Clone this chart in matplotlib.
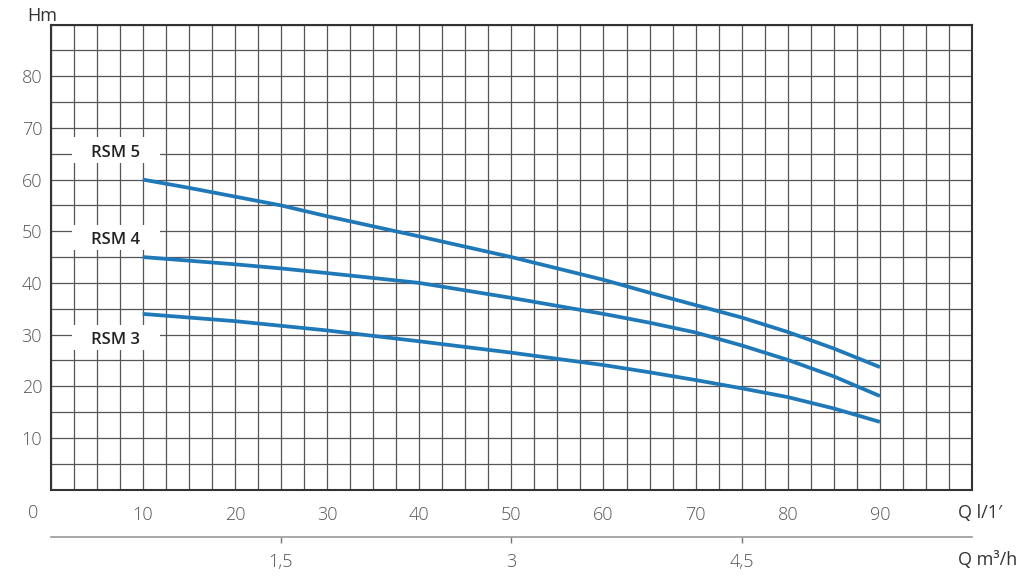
import matplotlib
matplotlib.use('Agg')
import matplotlib.pyplot as plt
from matplotlib.patches import Rectangle
import numpy as np

# ---- data ----
flow_lpm = [10, 15, 20, 25, 30, 40, 50, 60, 65, 70, 75, 80, 85, 90]
head_rsm5 = [60.0, 58.4, 56.7, 55.0, 52.9, 49.0, 45.0, 40.6, 38.1, 35.7, 33.3, 30.5, 27.3, 23.7]
head_rsm4 = [45.0, 44.3, 43.6, 42.8, 41.9, 40.0, 37.1, 34.0, 32.3, 30.4, 27.9, 25.1, 21.9, 18.1]
head_rsm3 = [34.0, 33.3, 32.6, 31.7, 30.8, 28.7, 26.5, 24.1, 22.7, 21.2, 19.6, 17.9, 15.7, 13.1]
series_names = ['RSM 5', 'RSM 4', 'RSM 3']
x_tick_values = [10, 20, 30, 40, 50, 60, 70, 80, 90]
x_tick_labels = ['10', '20', '30', '40', '50', '60', '70', '80', '90']
y_tick_values = [10, 20, 30, 40, 50, 60, 70, 80]
y_tick_labels = ['10', '20', '30', '40', '50', '60', '70', '80']
m3h_tick_values = [1.5, 3.0, 4.5]
m3h_tick_labels = ['1,5', '3', '4,5']

plt.rcParams['font.family'] = ['Open Sans', 'DejaVu Sans']

W, H = 1024, 586
fig = plt.figure(figsize=(W / 100, H / 100), dpi=100)
ax = fig.add_axes([50.5 / W, 1 - 489.6 / H, (972.1 - 50.5) / W, (489.6 - 24.5) / H])
ax.set_xlim(0, 100)
ax.set_ylim(0, 90)

grid_color = '#555555'
tick_color = '#555555'
ax.set_xticks(x_tick_values)
ax.set_xticklabels(x_tick_labels, fontweight='light')
ax.set_xticks(np.arange(0, 100.01, 2.5), minor=True)
ax.set_yticks(y_tick_values)
ax.set_yticklabels(y_tick_labels, fontweight='light')
ax.set_yticks(np.arange(0, 90.01, 5), minor=True)
ax.grid(which='both', color=grid_color, linewidth=0.9)
ax.set_axisbelow(True)
ax.tick_params(which='both', length=0)
ax.tick_params(axis='x', pad=11.5, labelsize=13, labelcolor=tick_color)
ax.tick_params(axis='y', pad=6, labelsize=13, labelcolor=tick_color)
for s in ax.spines.values():
    s.set_color('#333333')
    s.set_linewidth(1.5)

ax.annotate('0', xy=(0, 0), xycoords='data', xytext=(-17.5, -23.4),
            textcoords='offset pixels', ha='center', va='center',
            fontsize=13, fontweight='light', color=tick_color, annotation_clip=False)

# curves
curve_color = '#1f78b7'
label_pos_y = [65.1, 48.3, 29.0]
box_y = [(63.2, 68.2), (46.3, 51.2), (27.0, 31.9)]
for name, head, ly, (b0, b1) in zip(series_names, [head_rsm5, head_rsm4, head_rsm3], label_pos_y, box_y):
    ax.plot(flow_lpm, head, color=curve_color, linewidth=2.7, zorder=3,
            solid_capstyle='butt', solid_joinstyle='round')
    ax.add_patch(Rectangle((2.33, b0), 11.88 - 2.33, b1 - b0, facecolor='white',
                           edgecolor='none', zorder=2))
    ax.text(7.0, ly, name, ha='center', va='center', fontsize=12,
            fontweight='semibold', color='#222222', zorder=4)

# secondary flow axis in m3/h
secax = ax.secondary_xaxis(-0.102, functions=(lambda q: q * 0.06, lambda m: m / 0.06))
secax.set_xticks(m3h_tick_values)
secax.set_xticklabels(m3h_tick_labels, fontweight='light')
secax.tick_params(direction='out', length=4, width=1, color='#777777', pad=7.5,
                  labelsize=13, labelcolor=tick_color)
secax.spines['bottom'].set_color('#999999')
secax.spines['bottom'].set_linewidth(1.2)

# axis titles
fig.text(27 / W, 1 - 16 / H, 'Hm', ha='left', va='center', fontsize=13, color='#333333')
fig.text(958 / W, 1 - 513 / H, 'Q l/1\u2032', ha='left', va='center', fontsize=13,
         color='#333333', family=['Open Sans', 'DejaVu Sans'])
fig.text(958 / W, 1 - 560 / H, 'Q m\u00b3/h', ha='left', va='center', fontsize=13,
         color='#333333')

fig.savefig('out.png', dpi=100, facecolor='white')
